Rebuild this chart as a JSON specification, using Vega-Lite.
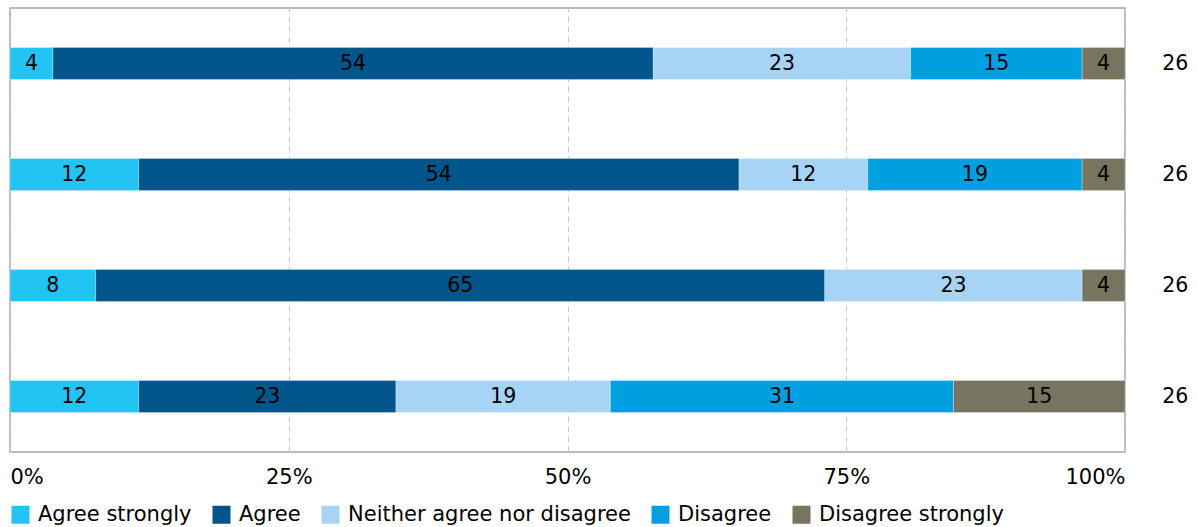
{
  "$schema": "https://vega.github.io/schema/vega-lite/v6.json",
  "width": 1115,
  "height": 444,
  "autosize": {"type": "none"},
  "padding": {"left": 10, "top": 8, "right": 72, "bottom": 75},
  "background": "white",
  "config": {
    "font": "DejaVu Sans",
    "view": {"stroke": "#a6a6a6", "strokeWidth": 1.5}
  },
  "data": {
    "values": [
      {"q": 1, "cat": "Agree strongly", "o": 1, "count": 1, "label": "4", "n": 26},
      {"q": 1, "cat": "Agree", "o": 2, "count": 14, "label": "54", "n": 26},
      {"q": 1, "cat": "Neither agree nor disagree", "o": 3, "count": 6, "label": "23", "n": 26},
      {"q": 1, "cat": "Disagree", "o": 4, "count": 4, "label": "15", "n": 26},
      {"q": 1, "cat": "Disagree strongly", "o": 5, "count": 1, "label": "4", "n": 26},
      {"q": 2, "cat": "Agree strongly", "o": 1, "count": 3, "label": "12", "n": 26},
      {"q": 2, "cat": "Agree", "o": 2, "count": 14, "label": "54", "n": 26},
      {"q": 2, "cat": "Neither agree nor disagree", "o": 3, "count": 3, "label": "12", "n": 26},
      {"q": 2, "cat": "Disagree", "o": 4, "count": 5, "label": "19", "n": 26},
      {"q": 2, "cat": "Disagree strongly", "o": 5, "count": 1, "label": "4", "n": 26},
      {"q": 3, "cat": "Agree strongly", "o": 1, "count": 2, "label": "8", "n": 26},
      {"q": 3, "cat": "Agree", "o": 2, "count": 17, "label": "65", "n": 26},
      {"q": 3, "cat": "Neither agree nor disagree", "o": 3, "count": 6, "label": "23", "n": 26},
      {"q": 3, "cat": "Disagree strongly", "o": 5, "count": 1, "label": "4", "n": 26},
      {"q": 4, "cat": "Agree strongly", "o": 1, "count": 3, "label": "12", "n": 26},
      {"q": 4, "cat": "Agree", "o": 2, "count": 6, "label": "23", "n": 26},
      {"q": 4, "cat": "Neither agree nor disagree", "o": 3, "count": 5, "label": "19", "n": 26},
      {"q": 4, "cat": "Disagree", "o": 4, "count": 8, "label": "31", "n": 26},
      {"q": 4, "cat": "Disagree strongly", "o": 5, "count": 4, "label": "15", "n": 26}
    ]
  },
  "encoding": {
    "y": {
      "field": "q",
      "type": "ordinal",
      "axis": null,
      "scale": {"paddingInner": 0.712, "paddingOuter": 0.356}
    }
  },
  "layer": [
    {
      "mark": {"type": "bar", "stroke": "white", "strokeWidth": 0.5, "strokeOpacity": 0.6},
      "encoding": {
        "x": {
          "field": "count",
          "type": "quantitative",
          "stack": "normalize",
          "scale": {"domain": [0, 1], "nice": false},
          "axis": {
            "values": [0, 0.25, 0.5, 0.75, 1],
            "format": ".0%",
            "title": null,
            "domain": false,
            "ticks": false,
            "labelFlush": true,
            "labelFontSize": 21,
            "labelColor": "black",
            "labelPadding": 14,
            "grid": true,
            "gridDash": [6, 4],
            "gridColor": "#c8c8c8",
            "gridWidth": 1
          }
        },
        "color": {
          "field": "cat",
          "type": "nominal",
          "sort": ["Agree strongly", "Agree", "Neither agree nor disagree", "Disagree", "Disagree strongly"],
          "scale": {
            "domain": ["Agree strongly", "Agree", "Neither agree nor disagree", "Disagree", "Disagree strongly"],
            "range": ["#21c4f3", "#00558b", "#a7d3f4", "#00a0e0", "#77745f"]
          },
          "legend": {
            "orient": "bottom",
            "direction": "horizontal",
            "title": null,
            "symbolType": "square",
            "symbolSize": 324,
            "symbolStrokeWidth": 0,
            "labelFontSize": 21,
            "labelColor": "black",
            "labelOffset": 7,
            "columnPadding": 19,
            "offset": 17,
            "labelLimit": 400
          }
        },
        "order": {"field": "o", "type": "quantitative"}
      }
    },
    {
      "transform": [
        {"stack": "count", "groupby": ["q"], "sort": [{"field": "o", "order": "ascending"}], "offset": "normalize", "as": ["x0", "x1"]},
        {"fold": ["x0", "x1"], "as": ["edge", "pos"]},
        {"aggregate": [{"op": "mean", "field": "pos", "as": "mid"}], "groupby": ["q", "cat", "label"]}
      ],
      "mark": {"type": "text", "fontSize": 20.5, "color": "black", "baseline": "middle", "align": "center"},
      "encoding": {
        "x": {"field": "mid", "type": "quantitative"},
        "text": {"field": "label"}
      }
    },
    {
      "mark": {"type": "text", "fontSize": 20.5, "color": "black", "baseline": "middle", "align": "center"},
      "encoding": {
        "x": {"datum": 1.045, "type": "quantitative"},
        "text": {"aggregate": "max", "field": "n"}
      }
    }
  ]
}
